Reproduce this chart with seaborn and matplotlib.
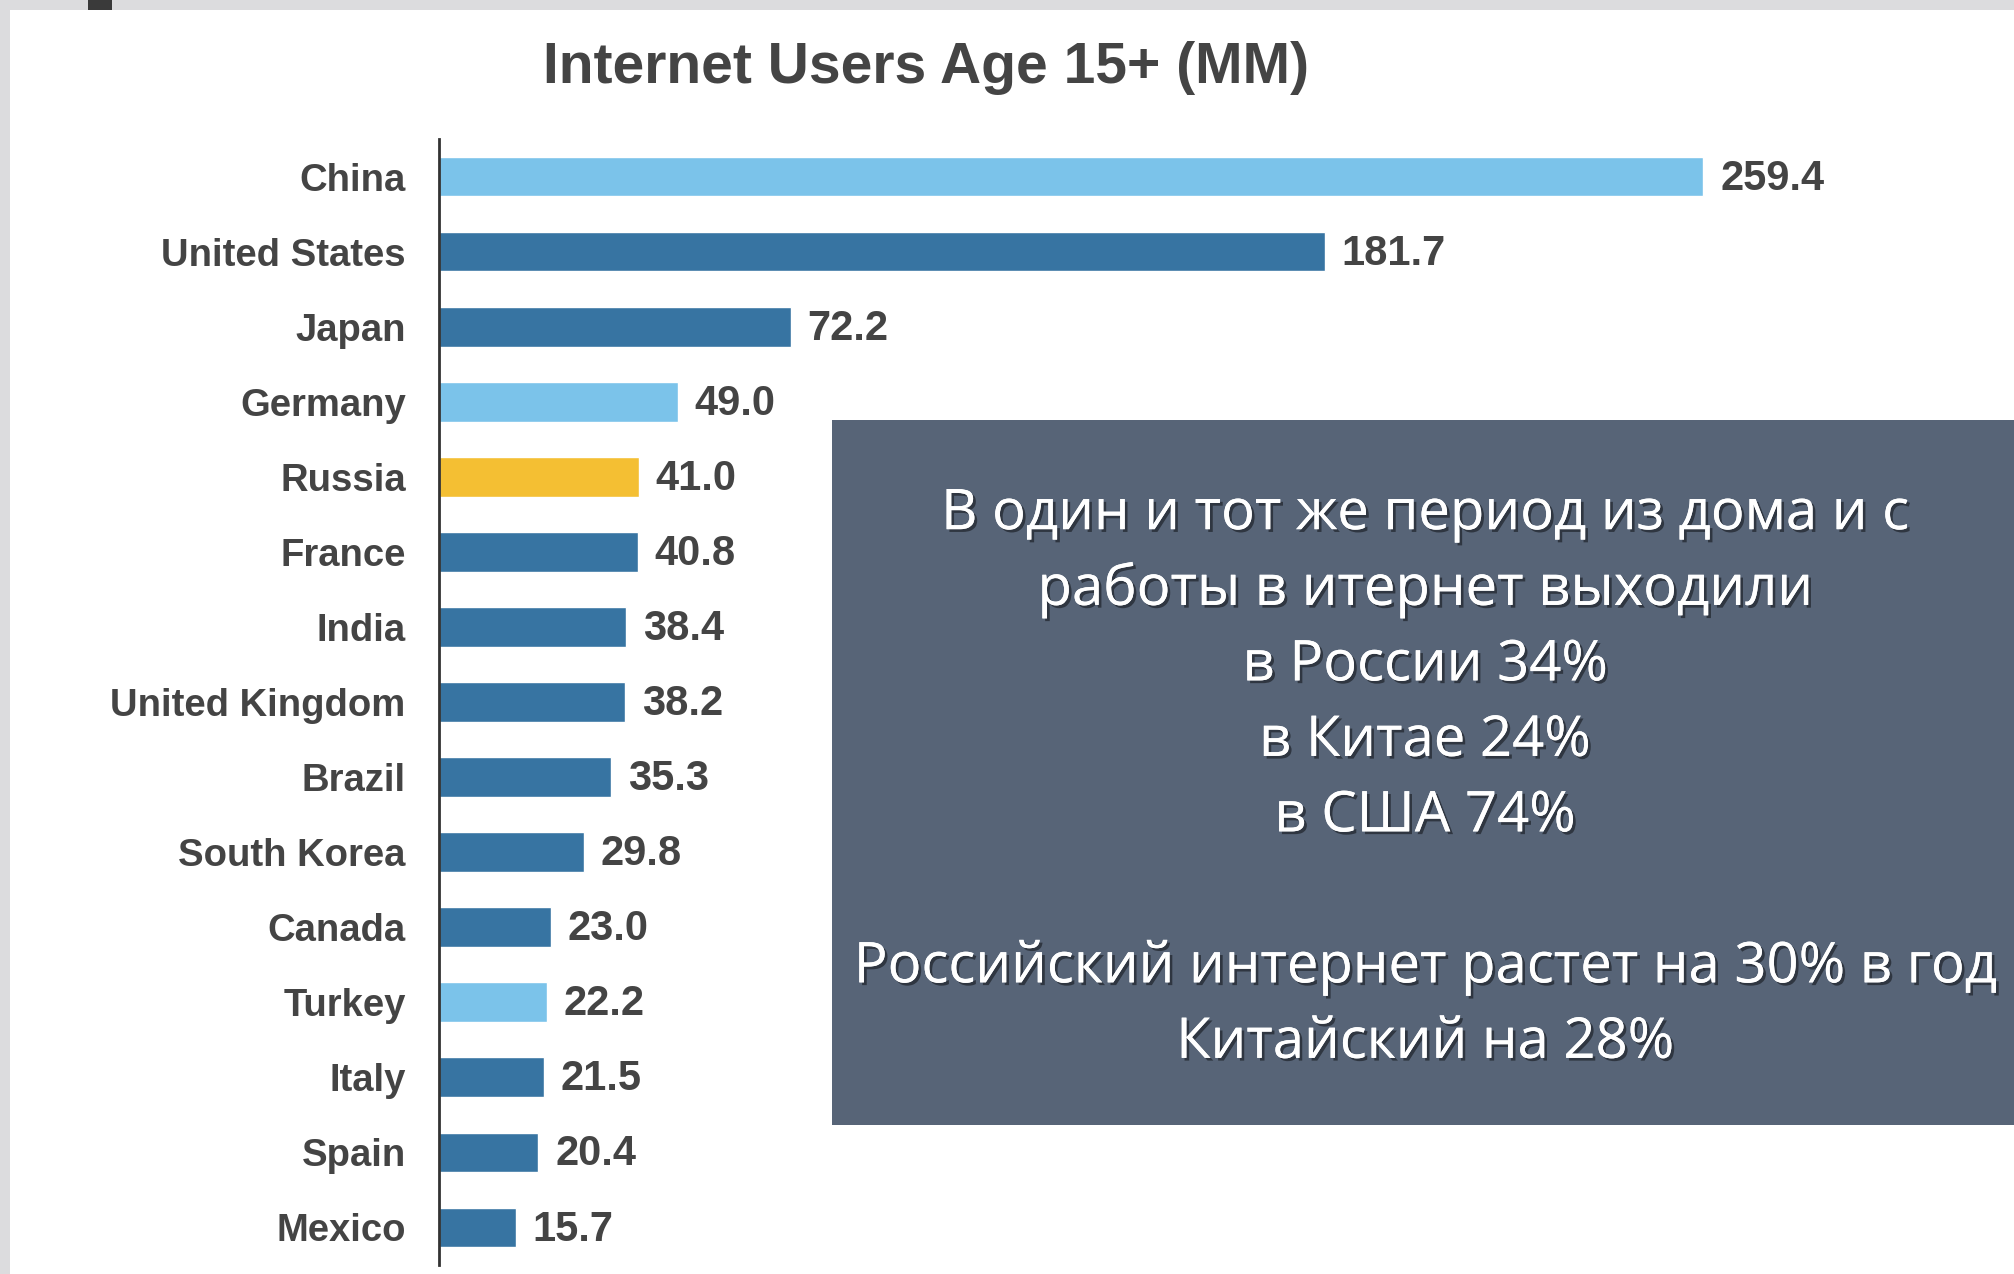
import matplotlib
matplotlib.use("Agg")
import matplotlib.pyplot as plt
import matplotlib.patheffects as pe
from matplotlib.patches import Rectangle
import pandas as pd
import seaborn as sns

countries = ["China", "United States", "Japan", "Germany", "Russia", "France",
             "India", "United Kingdom", "Brazil", "South Korea", "Canada",
             "Turkey", "Italy", "Spain", "Mexico"]
users_mm = [259.4, 181.7, 72.2, 49.0, 41.0, 40.8, 38.4, 38.2, 35.3, 29.8,
            23.0, 22.2, 21.5, 20.4, 15.7]
highlight = ["light", "dark", "dark", "light", "russia", "dark", "dark", "dark",
             "dark", "dark", "dark", "light", "dark", "dark", "dark"]

title = "Internet Users Age 15+ (MM)"
note_lines = [
    "В один и тот же период из дома и с",
    "работы в итернет выходили",
    "в России 34%",
    "в Китае 24%",
    "в США 74%",
    "",
    "Российский интернет растет на 30% в год",
    "Китайский на 28%",
]

palette = {"light": "#7bc3ea", "dark": "#3774a2", "russia": "#f4bf33"}

df = pd.DataFrame({"country": countries, "users": users_mm, "group": highlight})

sns.set_theme(style="white")
plt.rcParams["font.family"] = ["Liberation Sans", "DejaVu Sans"]

W, H = 2014, 1274
fig = plt.figure(figsize=(W / 100, H / 100), dpi=100)
fig.patch.set_facecolor("#dcdcde")

# white slide panel and small dark tab at the top
fig.patches.append(Rectangle((10 / W, 0), 1, 1 - 10 / H, transform=fig.transFigure,
                             facecolor="white", edgecolor="none", zorder=-5))
fig.patches.append(Rectangle((88 / W, 1 - 10 / H), 24 / W, 10 / H, transform=fig.transFigure,
                             facecolor="#3a3a3a", edgecolor="none", zorder=-5))

ax = fig.add_axes([439 / W, 9 / H, 1511 / W, 1126 / H])
ax.set_zorder(1)
ax.set_facecolor("none")
sns.barplot(data=df, y="country", x="users", hue="group", palette=palette,
            order=countries, dodge=False, width=0.53, legend=False, ax=ax,
            saturation=1)

# value labels next to each bar
for c in ax.containers:
    for p, v in zip(c.patches, c.datavalues):
        if pd.isna(v):
            continue
        ax.annotate(f"{v:.1f}", (p.get_width(), p.get_y() + p.get_height() / 2),
                    xytext=(12, -1.5), textcoords="offset points", ha="left",
                    va="center", fontsize=30, fontweight="bold", color="#444444")

ax.set_xlim(0, 310)
ax.set_ylim(14.5, -0.5)
ax.set_xlabel("")
ax.set_ylabel("")
ax.set_xticks([])
for s in ["top", "right", "bottom"]:
    ax.spines[s].set_visible(False)
ax.spines["left"].set_color("#333333")
ax.spines["left"].set_linewidth(2)
ax.tick_params(axis="y", length=0, pad=24, labelsize=27.5, labelcolor="#444444")
for lab in ax.get_yticklabels():
    lab.set_fontweight("bold")

fig.text(926 / W, 1 - 68 / H, title, ha="center", va="center", fontsize=41,
         fontweight="bold", color="#444444")

# annotation box
fig.patches.append(Rectangle((832 / W, 1 - 1125 / H), (W - 832) / W, 705 / H,
                             transform=fig.transFigure, facecolor="#576477",
                             edgecolor="none", zorder=5))
fig.text(1425 / W, 1 - 779 / H, "\n".join(note_lines), ha="center", va="center",
         fontsize=40.5, color="white", family=["Open Sans", "DejaVu Sans"],
         linespacing=1.43, zorder=6,
         path_effects=[pe.withSimplePatchShadow(offset=(2, -2), shadow_rgbFace="black",
                                                alpha=0.45), pe.Normal()])

fig.savefig("out.png", dpi=100, facecolor=fig.get_facecolor())
